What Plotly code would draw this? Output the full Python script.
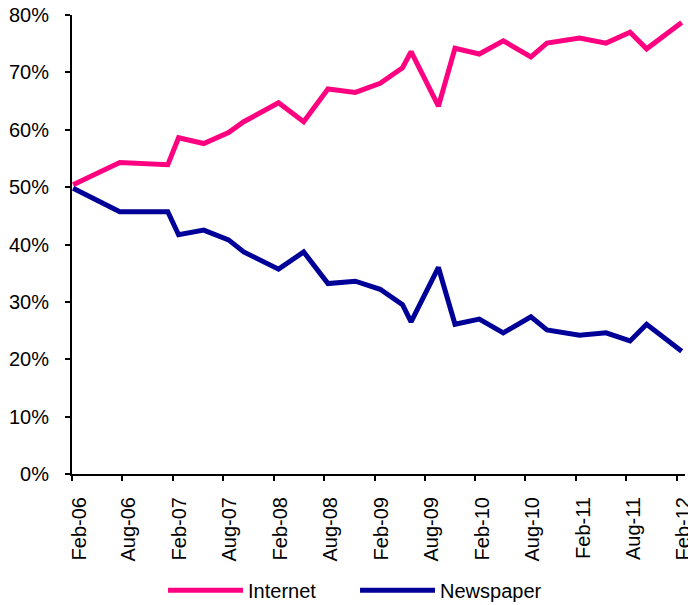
import plotly.graph_objects as go

dates = ["2006-02-05", "2006-07-24", "2007-01-14", "2007-02-22", "2007-05-24",
         "2007-08-22", "2007-10-16", "2008-02-19", "2008-05-20", "2008-08-16",
         "2008-11-23", "2009-02-21", "2009-05-13", "2009-06-13", "2009-09-20",
         "2009-11-19", "2010-02-15", "2010-05-13", "2010-08-21", "2010-10-18",
         "2011-02-13", "2011-05-20", "2011-08-15", "2011-10-14", "2012-02-18"]

internet = [50.4, 54.3, 53.9, 58.6, 57.6, 59.5, 61.4, 64.7, 61.4, 67.1,
            66.5, 68.1, 70.8, 73.6, 64.1, 74.2, 73.2, 75.5, 72.7, 75.1,
            76.0, 75.1, 77.0, 74.1, 78.7]

newspaper = [49.8, 45.7, 45.7, 41.7, 42.5, 40.8, 38.7, 35.7, 38.7, 33.2,
             33.6, 32.2, 29.5, 26.5, 36.0, 26.1, 27.0, 24.6, 27.4, 25.1,
             24.2, 24.6, 23.2, 26.1, 21.4]

tick_dates = ["2006-02-01", "2006-08-01", "2007-02-01", "2007-08-01", "2008-02-01",
              "2008-08-01", "2009-02-01", "2009-08-01", "2010-02-01", "2010-08-01",
              "2011-02-01", "2011-08-01", "2012-02-01"]
tick_labels = ["Feb-06", "Aug-06", "Feb-07", "Aug-07", "Feb-08", "Aug-08", "Feb-09",
               "Aug-09", "Feb-10", "Aug-10", "Feb-11", "Aug-11", "Feb-12"]

FONT = "Liberation Sans, Arial, sans-serif"

fig = go.Figure()
fig.add_trace(go.Scatter(x=dates, y=[v / 100 for v in internet], name="Internet",
                         mode="lines", line=dict(color="#FF0080", width=5)))
fig.add_trace(go.Scatter(x=dates, y=[v / 100 for v in newspaper], name="Newspaper",
                         mode="lines", line=dict(color="#000099", width=5)))

fig.update_layout(
    width=688, height=605,
    margin=dict(l=72, r=3, t=15, b=131, autoexpand=False),
    paper_bgcolor="white", plot_bgcolor="white",
    font=dict(family=FONT, size=20, color="black"),
    showlegend=True,
    legend=dict(orientation="h", x=0.1485, xanchor="left", y=-0.211, yanchor="top",
                font=dict(family=FONT, size=20, color="black"),
                itemwidth=75, entrywidth=102, entrywidthmode="pixels",
                traceorder="normal"),
)
fig.update_xaxes(
    type="date", range=["2006-02-01", "2012-03-01"], automargin=False,
    tickmode="array", tickvals=tick_dates, ticktext=tick_labels,
    tickangle=-90, ticks="outside", ticklen=5, tickwidth=2, tickcolor="black",
    showline=True, linecolor="black", linewidth=2, showgrid=False, zeroline=False,
    tickfont=dict(family=FONT, size=20, color="black"),
    ticklabelstandoff=8, ticklabelshift=7, ticklabeloverflow="allow",
)
fig.update_yaxes(
    range=[0, 0.8], dtick=0.1, tickformat=".0%", automargin=False,
    ticks="outside", ticklen=5, tickwidth=2, tickcolor="black",
    showline=True, linecolor="black", linewidth=2, showgrid=False, zeroline=False,
    tickfont=dict(family=FONT, size=20, color="black"),
    ticklabelstandoff=12, ticklabeloverflow="allow",
)

fig.write_html("out.html", config={"displayModeBar": False},
               post_script="document.body.style.margin='0';document.body.style.overflow='hidden';")
